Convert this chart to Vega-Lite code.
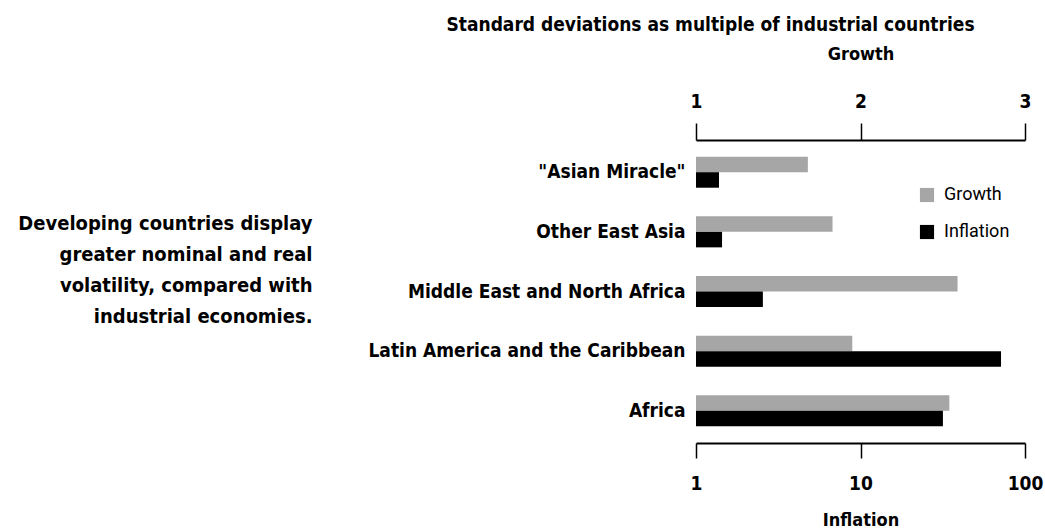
{
  "$schema": "https://vega.github.io/schema/vega-lite/v6.json",
  "width": 329,
  "height": 303,
  "autosize": {"type": "none"},
  "padding": {"left": 696, "top": 140, "right": 20, "bottom": 85},
  "background": "white",
  "title": {
    "text": "Standard deviations as multiple of industrial countries",
    "font": "DejaVu Sans Condensed",
    "fontSize": 19,
    "fontWeight": "bold",
    "color": "black",
    "anchor": "middle",
    "dx": -150,
    "dy": -6
  },
  "data": {
    "values": [
      {"region": "\"Asian Miracle\"", "series": "Growth", "value": 1.68},
      {"region": "\"Asian Miracle\"", "series": "Inflation", "value": 1.38},
      {"region": "Other East Asia", "series": "Growth", "value": 1.83},
      {"region": "Other East Asia", "series": "Inflation", "value": 1.44},
      {"region": "Middle East and North Africa", "series": "Growth", "value": 2.59},
      {"region": "Middle East and North Africa", "series": "Inflation", "value": 2.55},
      {"region": "Latin America and the Caribbean", "series": "Growth", "value": 1.95},
      {"region": "Latin America and the Caribbean", "series": "Inflation", "value": 71.5},
      {"region": "Africa", "series": "Growth", "value": 2.54},
      {"region": "Africa", "series": "Inflation", "value": 31.7}
    ]
  },
  "encoding": {
    "y": {
      "field": "region",
      "type": "nominal",
      "sort": null,
      "scale": {
        "domain": ["\"Asian Miracle\"", "Other East Asia", "Middle East and North Africa", "Latin America and the Caribbean", "Africa"],
        "paddingInner": 0.48,
        "paddingOuter": 0.28
      },
      "axis": {
        "domain": false,
        "ticks": false,
        "labelPadding": 11,
        "labelLimit": 400,
        "labelFont": "DejaVu Sans Condensed",
        "labelFontSize": 19,
        "labelFontWeight": "bold",
        "labelColor": "black",
        "title": ["Developing countries display", "greater nominal and real", "volatility, compared with", "industrial economies."],
        "titleAngle": 0,
        "titleAlign": "right",
        "titleBaseline": "alphabetic",
        "titleX": -384,
        "titleY": 89,
        "titleLineHeight": 31,
        "titleFont": "DejaVu Sans Condensed",
        "titleFontSize": 20,
        "titleFontWeight": "bold",
        "titleColor": "black"
      }
    },
    "yOffset": {
      "field": "series",
      "type": "nominal",
      "scale": {"domain": ["Growth", "Inflation"], "paddingInner": 0, "paddingOuter": 0}
    },
    "color": {
      "field": "series",
      "type": "nominal",
      "scale": {"domain": ["Growth", "Inflation"], "range": ["#a6a6a6", "#000000"]},
      "legend": {
        "orient": "none",
        "legendX": 222,
        "legendY": 46,
        "title": null,
        "symbolType": "square",
        "symbolSize": 200,
        "symbolStrokeWidth": 0,
        "labelFont": "Roboto",
        "labelFontSize": 18,
        "labelColor": "black",
        "labelOffset": 8,
        "rowPadding": 19,
        "padding": 0
      }
    }
  },
  "layer": [
    {
      "transform": [{"filter": "datum.series === 'Growth'"}],
      "mark": {"type": "bar"},
      "encoding": {
        "x": {
          "field": "value",
          "type": "quantitative",
          "scale": {"domain": [1, 3], "zero": false, "nice": false},
          "axis": {
            "orient": "top",
            "tickCount": 2,
            "format": "d",
            "grid": false,
            "domainColor": "black",
            "domainWidth": 2,
            "tickColor": "black",
            "tickWidth": 1.5,
            "tickSize": 17,
            "labelPadding": 12,
            "labelFlush": false,
            "labelOverlap": false,
            "labelFont": "DejaVu Sans Condensed",
            "labelFontSize": 19,
            "labelFontWeight": "bold",
            "labelColor": "black",
            "title": "Growth",
            "titleX": 164.5,
            "titleY": -81,
            "titleAlign": "center",
            "titleBaseline": "alphabetic",
            "titleFont": "DejaVu Sans Condensed",
            "titleFontSize": 18,
            "titleFontWeight": "bold",
            "titleColor": "black"
          }
        },
        "x2": {"datum": 1}
      }
    },
    {
      "transform": [{"filter": "datum.series === 'Inflation'"}],
      "mark": {"type": "bar"},
      "encoding": {
        "x": {
          "field": "value",
          "type": "quantitative",
          "scale": {"type": "log", "domain": [1, 100], "nice": false},
          "axis": {
            "orient": "bottom",
            "values": [1, 10, 100],
            "format": "d",
            "grid": false,
            "domainColor": "black",
            "domainWidth": 2,
            "tickColor": "black",
            "tickWidth": 1.5,
            "tickSize": 15,
            "labelPadding": 16,
            "labelFlush": false,
            "labelOverlap": false,
            "labelFont": "DejaVu Sans Condensed",
            "labelFontSize": 19,
            "labelFontWeight": "bold",
            "labelColor": "black",
            "title": "Inflation",
            "titleX": 164.5,
            "titleY": 82,
            "titleAlign": "center",
            "titleBaseline": "alphabetic",
            "titleFont": "DejaVu Sans Condensed",
            "titleFontSize": 18,
            "titleFontWeight": "bold",
            "titleColor": "black"
          }
        },
        "x2": {"datum": 1}
      }
    }
  ],
  "resolve": {"scale": {"x": "independent"}, "axis": {"x": "independent"}},
  "config": {"view": {"stroke": null}}
}
